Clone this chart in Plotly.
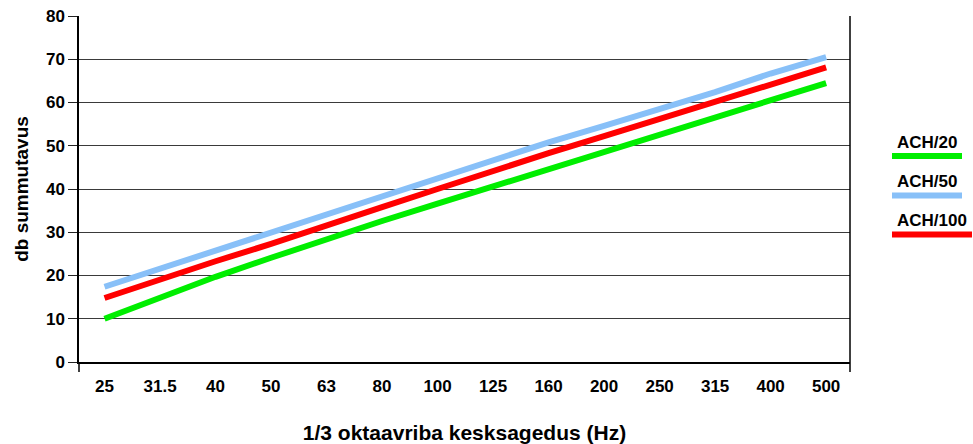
import plotly.graph_objects as go

categories = ["25", "31.5", "40", "50", "63", "80", "100", "125", "160", "200", "250", "315", "400", "500"]
ach20 = [10, 14.9, 19.7, 24.1, 28.5, 32.6, 36.6, 40.6, 44.5, 48.3, 52.3, 56.4, 60.4, 64.5]
ach50 = [17.4, 21.6, 25.8, 29.9, 34.0, 38.4, 42.6, 46.7, 50.8, 54.6, 58.5, 62.4, 66.7, 70.5]
ach100 = [14.8, 19.1, 23.3, 27.3, 31.4, 35.8, 40.0, 44.2, 48.3, 52.2, 56.1, 60.1, 64.0, 68.1]
series_names = ["ACH/20", "ACH/50", "ACH/100"]
series_colors = ["#00ee00", "#88c0f8", "#ff0000"]
y_ticks = [0, 10, 20, 30, 40, 50, 60, 70, 80]

W, H = 973, 444
L, R, T, B = 79, 123, 16, 82
pw, ph = W - L - R, H - T - B

def px(x):
    return (x - L) / pw

def py(y):
    return (H - B - y) / ph

fig = go.Figure()
data = {"ACH/20": ach20, "ACH/50": ach50, "ACH/100": ach100}
for i in [0, 2, 1]:
    name = series_names[i]
    fig.add_trace(go.Scatter(x=categories, y=data[name], mode="lines", name=name,
                             line=dict(color=series_colors[i], width=6), showlegend=False))

font = "Liberation Sans, Arial, sans-serif"
fig.update_layout(
    width=W, height=H,
    margin=dict(l=L, r=R, t=T, b=B),
    plot_bgcolor="white", paper_bgcolor="white",
    font=dict(family=font, color="black"),
    xaxis=dict(type="category", range=[-0.46, len(categories) - 0.57], automargin=False,
               showgrid=False, showline=True, linecolor="black", linewidth=1.5,
               ticks="outside", ticklen=8, tickcolor="rgba(0,0,0,0)",
               tickfont=dict(size=17, family=font, weight="bold"),
               title=dict(text="<b>1/3 oktaavriba kesksagedus (Hz)</b>", font=dict(size=21), standoff=32)),
    yaxis=dict(range=[0, 80], tickvals=y_ticks, showgrid=True, gridcolor="#3a3a3a", gridwidth=1.2,
               showline=True, linecolor="black", linewidth=1.5, zeroline=False, automargin=False,
               ticks="outside", ticklen=9, tickcolor="#222222",
               tickfont=dict(size=17, family=font, weight="bold"),
               title=dict(text="<b>db summutavus</b>", font=dict(size=19), standoff=12)),
)

shapes = []
shapes.append(dict(type="line", xref="paper", yref="paper", x0=1, x1=1, y0=py(372), y1=1,
                   line=dict(color="black", width=1.5)))
shapes.append(dict(type="line", xref="paper", yref="paper", x0=0, x1=0, y0=py(372), y1=0,
                   line=dict(color="black", width=1.5)))

legend_pos = [(142, 156, 892, 962), (181, 195.5, 892, 962), (221, 234.5, 892, 972)]
annotations = []
for name, col, (ty, ly, x0, x1) in zip(series_names, series_colors, legend_pos):
    shapes.append(dict(type="line", xref="paper", yref="paper", x0=px(x0), x1=px(x1),
                       y0=py(ly), y1=py(ly), line=dict(color=col, width=6)))
    annotations.append(dict(text="<b>" + name + "</b>", xref="paper", yref="paper",
                            x=px(x0 + 3), y=py(ty), xanchor="left", yanchor="middle",
                            showarrow=False, font=dict(size=17, family=font, color="black")))
fig.update_layout(shapes=shapes, annotations=annotations)

fig.write_html("out.html", config={"displayModeBar": False},
               post_script="document.body.style.margin='0';document.body.style.overflow='hidden';")
